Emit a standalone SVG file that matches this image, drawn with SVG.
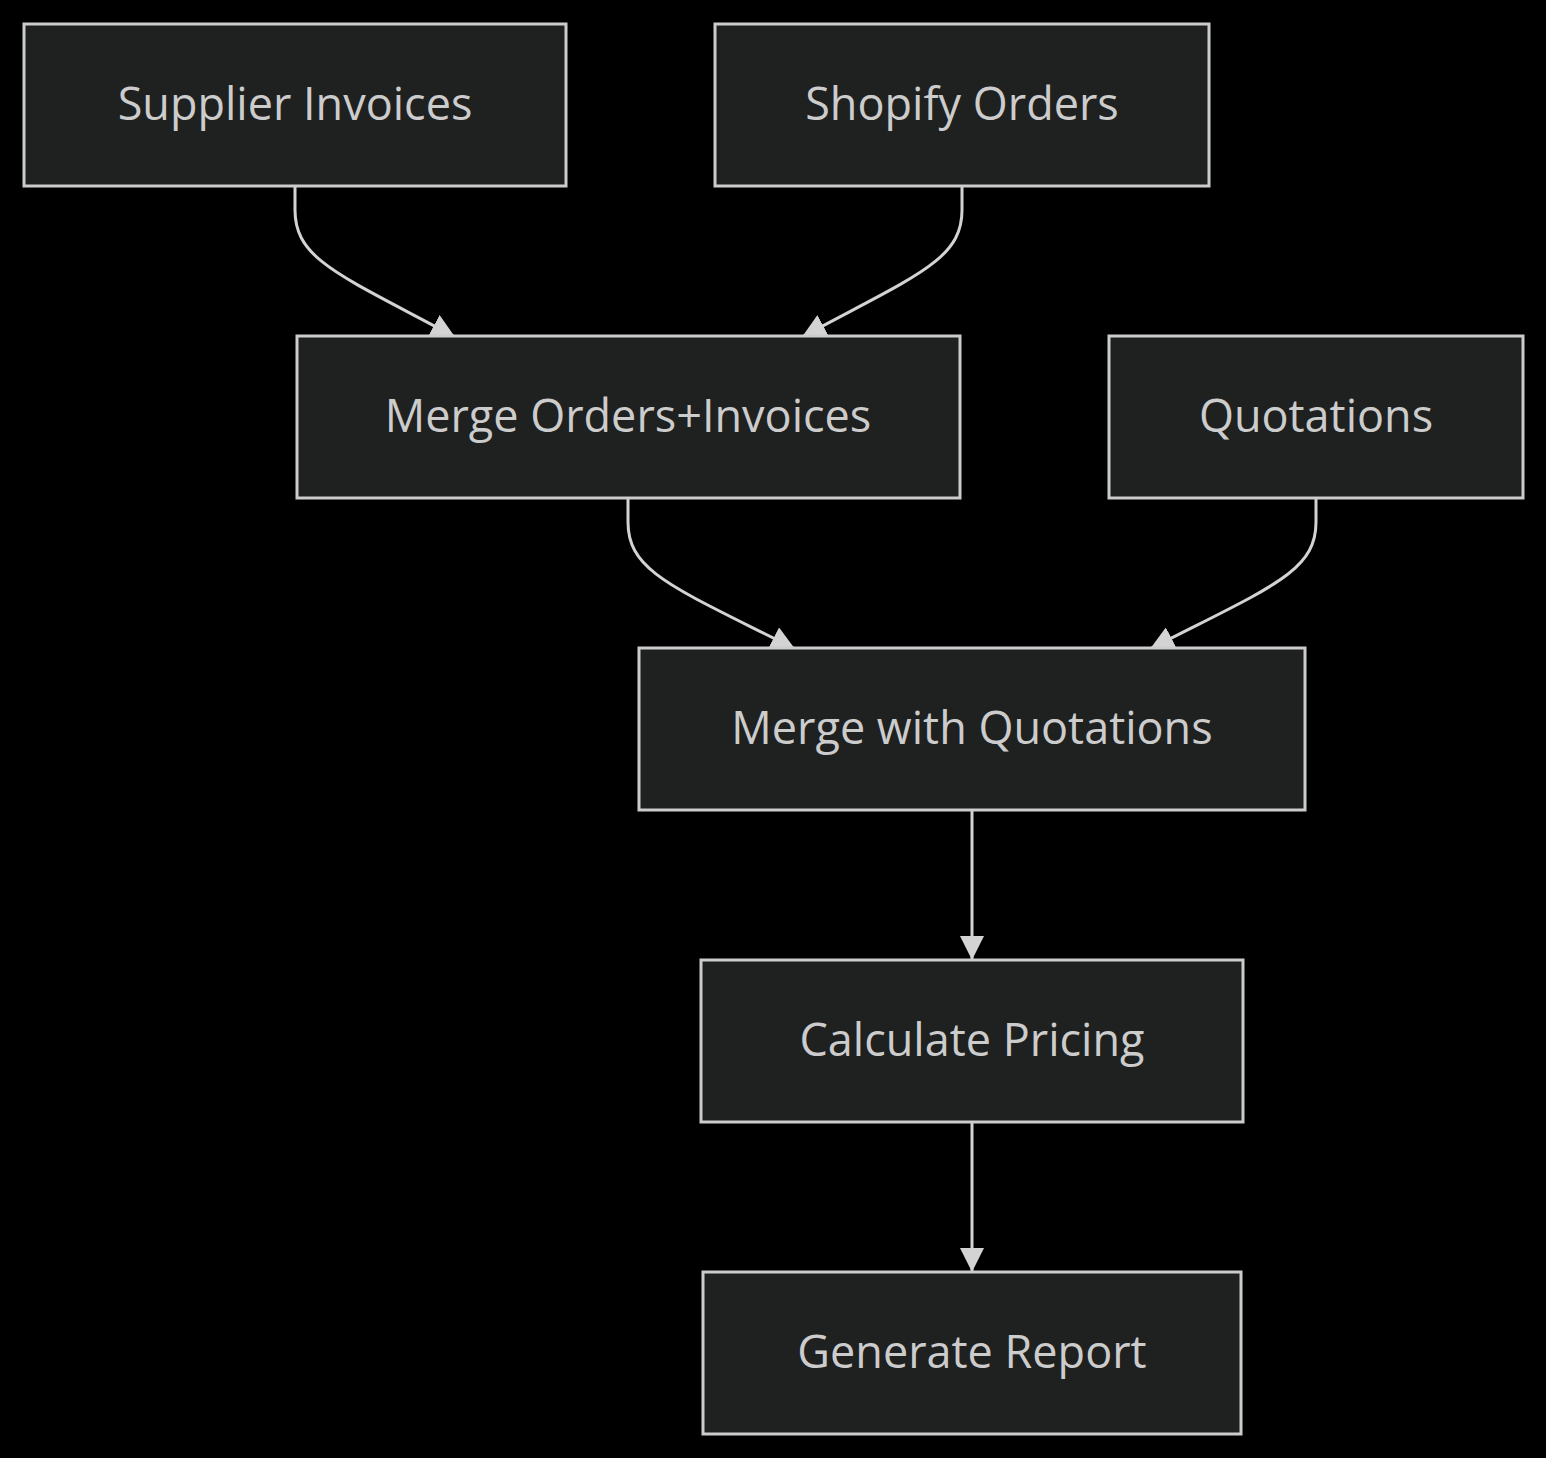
<svg xmlns="http://www.w3.org/2000/svg" width="1546" height="1458" viewBox="0 0 1546 1458">
<style>
.node rect{fill:#1f2020;stroke:#cccccc;stroke-width:3}
.node text{fill:#cccccc;font-family:"Open Sans","DejaVu Sans",sans-serif;font-size:45px;text-anchor:middle;dominant-baseline:central}
.edge{fill:none;stroke:#d3d3d3;stroke-width:3}
</style>
<defs>
<marker id="arrow" markerUnits="userSpaceOnUse" markerWidth="24" markerHeight="24" refX="24" refY="12" orient="auto" viewBox="0 0 24 24">
<path d="M0,0 L24,12 L0,24 z" fill="#d3d3d3"/>
</marker>
</defs>
<rect width="1546" height="1458" fill="#000000"/>
<g id="connectors">
<path class="edge" marker-end="url(#arrow)" d="M295,186 L295,210 C295,260 340,275 455,337"/>
<path class="edge" marker-end="url(#arrow)" d="M962,186 L962,210 C962,260 917,275 802,337"/>
<path class="edge" marker-end="url(#arrow)" d="M628,498 L628,522 C628,572 673,587 795,649"/>
<path class="edge" marker-end="url(#arrow)" d="M1316,498 L1316,522 C1316,572 1271,587 1150,649"/>
<path class="edge" marker-end="url(#arrow)" d="M972,810 L972,960"/>
<path class="edge" marker-end="url(#arrow)" d="M972,1122 L972,1272"/>
</g>
<g id="supplier" class="node"><rect x="24" y="24" width="542" height="162"/><text x="295" y="102">Supplier Invoices</text></g>
<g id="shopify" class="node"><rect x="715" y="24" width="494" height="162"/><text x="962" y="102">Shopify Orders</text></g>
<g id="mergeOrders" class="node"><rect x="297" y="336" width="663" height="162"/><text x="628" y="414">Merge Orders+Invoices</text></g>
<g id="quotations" class="node"><rect x="1109" y="336" width="414" height="162"/><text x="1316" y="414">Quotations</text></g>
<g id="mergeQuotations" class="node"><rect x="639" y="648" width="666" height="162"/><text x="972" y="726">Merge with Quotations</text></g>
<g id="pricing" class="node"><rect x="701" y="960" width="542" height="162"/><text x="972" y="1038">Calculate Pricing</text></g>
<g id="report" class="node"><rect x="703" y="1272" width="538" height="162"/><text x="972" y="1350">Generate Report</text></g>
</svg>
